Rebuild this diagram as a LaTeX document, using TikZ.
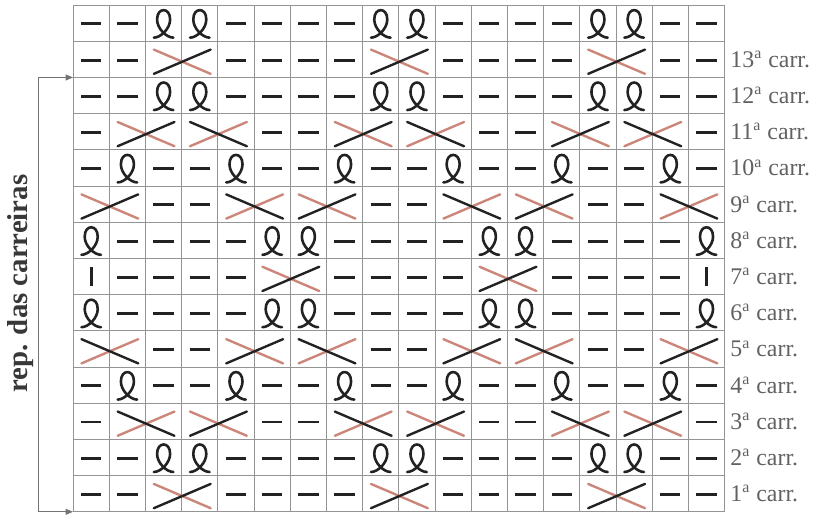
\documentclass[tikz,border=0pt]{standalone}
\usepackage{fontspec}
\setmainfont{Liberation Serif}
\usetikzlibrary{arrows.meta}
\definecolor{ink}{HTML}{222222}
\definecolor{stitchred}{HTML}{CC8679}

\begin{document}
\begin{tikzpicture}[x=0.64cm,y=0.64cm,>={Triangle[length=3.8pt,width=3pt]},
  gridline/.style={draw=black!42,line width=0.5pt},
  purlline/.style={ink,line width=1.45pt},
  loopline/.style={ink,line width=1.3pt,line cap=round},
  redline/.style={stitchred,line width=1.2pt,line cap=round},
  blackline/.style={ink,line width=1.2pt,line cap=round},
  rowlabel/.style={anchor=west,inner sep=0pt,text=black!62,font=\fontsize{12}{14}\selectfont},
  replabel/.style={rotate=90,inner sep=0pt,text=black!78,font=\fontsize{14.5}{16}\selectfont\bfseries},
  reparrow/.style={<->,draw=black!55,line width=0.5pt},
  % p = purl, t = twisted loop, k = knit, a/b = crossing over two cells, n = nothing
  p/.pic={\draw[purlline] (-0.28,-0.02) -- (0.28,-0.02);},
  k/.pic={\draw[purlline] (0,-0.25) -- (0,0.25);},
  t/.pic={\draw[loopline] (-0.27,-0.4) .. controls (-0.08,-0.4) and (0.18,-0.15) .. (0.18,0.1)
      .. controls (0.18,0.28) and (0.09,0.36) .. (0,0.36)
      .. controls (-0.09,0.36) and (-0.18,0.28) .. (-0.18,0.1)
      .. controls (-0.18,-0.15) and (0.08,-0.4) .. (0.27,-0.4);},
  a/.pic={\draw[redline] (-0.27,0.27) -- (1.3,-0.4);
          \draw[blackline] (-0.27,-0.4) -- (1.3,0.27);},
  b/.pic={\draw[redline] (-0.27,-0.4) -- (1.3,0.27);
          \draw[blackline] (-0.27,0.27) -- (1.3,-0.4);},
  n/.pic={}]
\useasboundingbox (-2.02,-0.166) rectangle (20.58,14.14);

\draw[gridline] (0,0) grid[step=1] (18,14);

% chart, top row first
\foreach \r/\cs in {
  14/{p,p,t,t,p,p,p,p,t,t,p,p,p,p,t,t,p,p},
  13/{p,p,a,n,p,p,p,p,a,n,p,p,p,p,a,n,p,p},
  12/{p,p,t,t,p,p,p,p,t,t,p,p,p,p,t,t,p,p},
  11/{p,a,n,b,n,p,p,a,n,b,n,p,p,a,n,b,n,p},
  10/{p,t,p,p,t,p,p,t,p,p,t,p,p,t,p,p,t,p},
  9/{a,n,p,p,b,n,a,n,p,p,b,n,a,n,p,p,b,n},
  8/{t,p,p,p,p,t,t,p,p,p,p,t,t,p,p,p,p,t},
  7/{k,p,p,p,p,a,n,p,p,p,p,a,n,p,p,p,p,k},
  6/{t,p,p,p,p,t,t,p,p,p,p,t,t,p,p,p,p,t},
  5/{b,n,p,p,a,n,b,n,p,p,a,n,b,n,p,p,a,n},
  4/{p,t,p,p,t,p,p,t,p,p,t,p,p,t,p,p,t,p},
  3/{p,b,n,a,n,p,p,b,n,a,n,p,p,b,n,a,n,p},
  2/{p,p,t,t,p,p,p,p,t,t,p,p,p,p,t,t,p,p},
  1/{p,p,a,n,p,p,p,p,a,n,p,p,p,p,a,n,p,p}}
  \foreach \s [count=\c] in \cs
    \pic at (\c-0.5,\r-0.5) {\s};

% row labels
\foreach \n in {1,...,13}
  \node[rowlabel] (lab\n) at (18.15,\n-0.5) {\n\textsuperscript{a} carr.};

% repeat bracket
\node[replabel] (rep) at (-1.46,6.3) {rep. das carreiras};
\coordinate (reptop) at (0,12);
\coordinate (repbot) at (0,0);
\coordinate (rail) at (-0.95,0);
\draw[reparrow] (reptop) -| (rail) -- (repbot);
\end{tikzpicture}
\end{document}
